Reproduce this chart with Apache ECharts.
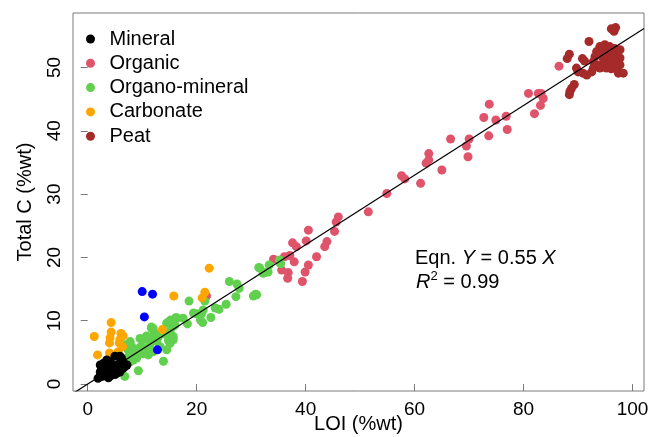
<!DOCTYPE html>
<html>
<head>
<meta charset="utf-8">
<script src="https://cdn.jsdelivr.net/npm/echarts@6/dist/echarts.min.js"></script>
<style>
html,body{margin:0;padding:0;background:#fff;}
#chart{width:655px;height:437px;}
</style>
</head>
<body>
<div id="chart"></div>
<script>
// ---- data (LOI %wt, Total C %wt) ----
const seriesNames = ['Mineral', 'Organic', 'Organo-mineral', 'Carbonate', 'Peat'];
const xTicks = [0, 20, 40, 60, 80, 100];
const yTicks = [0, 10, 20, 30, 40, 50];
const slope = 0.55;
const r2 = 0.99;

const mineral = [
  [2.6,1.2],[3.2,1.4],[2.9,1.9],[3.8,1.7],[4.4,1.9],[5.0,2.1],[5.6,2.2],[6.2,2.5],[6.8,2.7],
  [2.9,3.3],[3.5,3.0],[2.6,2.7],[4.1,2.7],[4.7,3.0],[5.3,2.7],[5.9,3.3],[6.5,3.5],[4.1,3.5],
  [3.5,3.8],[5.0,4.4],[5.9,4.4],[6.2,4.1],[2.3,1.9],[3.8,1.0],[4.6,1.6],[5.3,1.7],[5.9,1.9],
  [6.5,2.5],[7.2,3.0],[3.2,2.5],[2.3,3.0],[3.0,1.3],[4.2,1.3],[5.0,1.5],[6.0,2.8],[4.5,2.4],
  [3.6,2.2],[1.9,0.9]
];
const organic = [
  [54.9,30.1],[57.6,32.9],[58.2,32.4],[61.1,31.7],[62.1,34.9],[62.6,35.4],[62.6,36.4],[65.0,33.8],
  [66.6,38.7],[69.5,37.6],[70.0,38.7],[69.8,35.9],[72.7,42.1],[73.7,44.2],[73.6,39.2],[74.9,41.7],
  [76.8,42.3],[77.0,40.2],[80.9,45.9],[82.7,45.9],[83.2,45.9],[83.6,45.1],[83.1,44.0],[82.0,42.7],
  [86.5,50.2],[51.5,27.2],[46.0,26.4],[45.6,25.6],[45.3,24.1],[40.5,24.3],[40.1,22.6],[37.6,22.3],
  [38.3,21.7],[43.9,22.5],[43.5,21.7],[42.0,20.1],[37.1,20.3],[36.1,20.1],[34.1,19.7],[37.9,19.3],
  [40.5,18.8],[39.9,17.7],[35.6,18.0],[36.8,17.6],[36.7,16.7],[39.4,16.2],[21.8,13.9]
];
const organoMineral = [
  [26.0,16.2],[27.4,15.8],[27.8,15.1],[31.4,18.4],[33.3,18.8],[32.5,17.6],[30.8,14.2],[30.4,13.9],
  [27.2,13.8],[25.4,12.6],[23.4,12.0],[24.1,11.8],[21.5,13.1],[21.2,11.7],[20.9,11.1],[22.6,10.5],
  [19.4,11.2],[20.0,11.1],[20.7,10.1],[21.1,9.7],[18.6,13.1],[17.5,10.4],[18.3,9.5],[16.4,10.4],
  [15.2,10.1],[14.6,9.6],[16.0,9.3],[11.7,8.8],[12.3,8.0],[15.1,7.5],[14.2,7.9],
  [35.2,19.6],[35.4,19.0],[33.1,17.7],[31.6,18.3],[32.2,17.5],
  [6.8,1.2],[9.3,2.1],[13.9,3.6],[8.4,3.8],[7.8,4.6],[9.0,5.4],[9.9,5.9],[9.6,7.2],[10.3,7.1],
  [11.7,9.0],[12.0,7.6],[11.4,6.7],[12.7,6.7],[14.5,9.6],[16.2,10.5],[13.9,8.0],[15.7,9.1],
  [10.8,5.4],[11.1,4.6],[12.0,5.1],[7.8,3.5],[7.4,5.4],[8.1,5.9],[13.3,5.9],[14.5,5.4],[15.1,6.4],
  [15.7,7.0],[13.0,7.5],[10.8,7.6],[12.0,8.8],[14.8,9.8],[6.8,6.2],[7.8,6.7],[8.7,5.4],[9.6,5.8],
  [10.2,4.8],[11.4,6.2],[12.3,7.5],[13.3,8.0],[15.1,8.3],[15.7,7.5],[14.8,6.9],[7.4,4.3],[6.8,3.7],
  [9.0,4.1],[8.1,4.4],[31.0,14.1]
];
const carbonate = [
  [1.2,7.5],[1.8,4.6],[4.3,9.7],[4.3,8.2],[4.1,7.3],[4.0,6.5],[6.1,8.0],[6.5,7.6],[5.8,6.5],
  [6.4,5.9],[5.9,7.0],[4.0,4.9],[5.6,5.1],[13.7,8.6],[15.8,13.9],[22.3,18.3],[21.5,14.5],[21.0,13.6]
];
const peat = [
  [96.9,56.3],[96.6,55.7],[96.1,56.1],[92.0,54.1],[94.0,53.3],[94.9,53.6],[95.8,53.3],[96.7,53.0],
  [97.7,52.8],[93.4,52.5],[94.3,52.8],[95.2,52.2],[96.1,52.4],[97.1,52.0],[93.1,51.7],[94.0,52.0],
  [94.6,51.5],[95.5,51.5],[96.4,51.7],[97.7,51.5],[92.8,50.9],[93.7,50.4],[94.9,50.6],[95.8,50.4],
  [96.8,50.9],[97.7,50.4],[94.0,49.9],[95.2,49.9],[96.1,49.8],[97.1,49.9],[98.3,49.1],[97.4,49.1],
  [88.4,52.1],[88.0,51.4],[90.8,51.4],[91.2,51.0],[89.7,49.9],[90.0,49.3],[90.9,49.1],[91.6,48.8],
  [92.5,49.3],[92.8,49.9],[89.3,47.3],[88.8,46.7],[88.5,46.2],[88.4,45.7]
];
const unclassified = [[10.0,14.6],[11.9,14.2],[10.4,10.6],[12.8,5.4]];

// ---- layout / style ----
const xMin = -2.7, xMax = 102.1, yMin = -1.1, yMax = 58.6;
const colors = {
  'Mineral': '#000000', 'Organic': '#DF536B', 'Organo-mineral': '#61D04F',
  'Carbonate': '#FFA500', 'Peat': '#A52A2A'
};
const FONT = 'Liberation Sans, Arial, sans-serif';
const frame = '#7a7a7a';

function sc(name, data, color, z) {
  return {
    name: name, type: 'scatter', data: data, symbol: 'circle', symbolSize: 9,
    itemStyle: { color: color, opacity: 1 }, z: z, emphasis: { disabled: true }
  };
}

const fitLine = [[xMin, slope * xMin], [xMax, slope * xMax]];

const chart = echarts.init(document.getElementById('chart'), null, { renderer: 'canvas' });
chart.setOption({
  animation: false,
  backgroundColor: '#ffffff',
  textStyle: { fontFamily: FONT },
  grid: {
    left: 73, right: 11, top: 13, bottom: 46, containLabel: false, outerBoundsMode: 'none',
    show: true, borderColor: frame, borderWidth: 1, backgroundColor: 'transparent'
  },
  legend: {
    data: seriesNames,
    orient: 'vertical',
    left: 81, top: 24,
    icon: 'circle',
    itemWidth: 28, itemHeight: 9, itemGap: 4.3,
    textStyle: { fontSize: 20, color: '#000', fontFamily: FONT, lineHeight: 20 },
    selectedMode: false
  },
  xAxis: {
    type: 'value', min: xMin, max: xMax,
    name: 'LOI (%wt)', nameLocation: 'middle', nameGap: 23, nameMoveOverlap: false,
    nameTextStyle: { fontSize: 20, color: '#000', fontFamily: FONT },
    axisLine: { show: false },
    splitLine: { show: false },
    axisTick: { show: true, length: 7, inside: false, customValues: xTicks, lineStyle: { color: frame } },
    axisLabel: { fontSize: 19, color: '#000', margin: 9, customValues: xTicks, fontFamily: FONT }
  },
  yAxis: {
    type: 'value', min: yMin, max: yMax,
    name: 'Total C (%wt)', nameLocation: 'middle', nameGap: 38, nameRotate: 90,
    nameTextStyle: { fontSize: 20, color: '#000', fontFamily: FONT },
    axisLine: { show: false },
    splitLine: { show: false },
    axisTick: { show: true, length: 7, inside: false, customValues: yTicks, lineStyle: { color: frame } },
    axisLabel: { fontSize: 19, color: '#000', margin: 9, rotate: 90, customValues: yTicks, fontFamily: FONT }
  },
  series: [
    sc('Peat', peat, colors['Peat'], 2),
    sc('Organic', organic, colors['Organic'], 2),
    sc('Organo-mineral', organoMineral, colors['Organo-mineral'], 2),
    sc('Carbonate', carbonate, colors['Carbonate'], 2),
    sc('Mineral', mineral, colors['Mineral'], 2),
    sc('Unclassified', unclassified, '#0000FF', 2),
    {
      type: 'line', data: fitLine, showSymbol: false, symbol: 'none', clip: true,
      lineStyle: { color: '#000', width: 1.2 }, z: 3, silent: true, emphasis: { disabled: true }
    }
  ],
  graphic: [
    {
      type: 'text', left: 415, top: 248, z: 10,
      style: {
        text: '{n|Eqn. }{i|Y}{n| = ' + slope.toFixed(2) + ' }{i|X}',
        rich: {
          n: { fontSize: 20, fontFamily: FONT, fill: '#000' },
          i: { fontSize: 20, fontFamily: FONT, fontStyle: 'italic', fill: '#000' }
        }
      }
    },
    {
      type: 'text', left: 416, top: 270, z: 10,
      style: {
        text: '{i|R}{s|2}{n| = ' + r2.toFixed(2) + '}',
        rich: {
          n: { fontSize: 20, fontFamily: FONT, fill: '#000', lineHeight: 22, verticalAlign: 'bottom' },
          i: { fontSize: 20, fontFamily: FONT, fontStyle: 'italic', fill: '#000', lineHeight: 22, verticalAlign: 'bottom' },
          s: { fontSize: 13, fontFamily: FONT, fill: '#000', lineHeight: 22, verticalAlign: 'top', padding: [0, 0, 6, 0] }
        }
      }
    }
  ]
});
</script>
</body>
</html>
